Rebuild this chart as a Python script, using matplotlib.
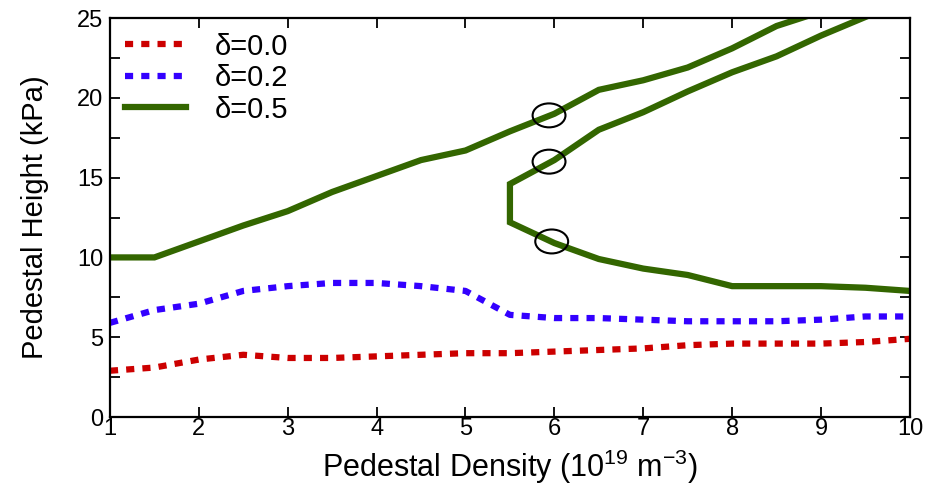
import numpy as np
import matplotlib
matplotlib.use("Agg")
import matplotlib.pyplot as plt
from matplotlib.patches import Ellipse

plt.rcParams['font.family'] = ['Liberation Sans', 'DejaVu Sans']
plt.rcParams['mathtext.fontset'] = 'custom'
plt.rcParams['mathtext.rm'] = 'Liberation Sans'

# Data
dens = [1, 1.5, 2, 2.5, 3, 3.5, 4, 4.5, 5, 5.5, 6, 6.5, 7, 7.5, 8, 8.5, 9, 9.5, 10]
p_d00 = [2.9, 3.1, 3.6, 3.9, 3.7, 3.7, 3.8, 3.9, 4.0, 4.0, 4.1, 4.2, 4.3, 4.5, 4.6, 4.6, 4.6, 4.7, 4.9]
p_d02 = [5.9, 6.7, 7.1, 7.9, 8.2, 8.4, 8.4, 8.2, 7.9, 6.4, 6.2, 6.2, 6.1, 6.0, 6.0, 6.0, 6.1, 6.3, 6.3]

# delta=0.5: outer branch and the inner (returning) branch
d05_outer_x = [1, 1.5, 2, 2.5, 3, 3.5, 4, 4.5, 5, 5.5, 6, 6.5, 7, 7.5, 8, 8.5, 9]
d05_outer_y = [10, 10, 11, 12, 12.9, 14.1, 15.1, 16.1, 16.7, 17.9, 19.0, 20.5, 21.1, 21.9, 23.1, 24.5, 25.4]
d05_inner_x = [9.6, 9, 8.5, 8, 7.5, 7, 6.5, 6, 5.5, 5.5, 6, 6.5, 7, 7.5, 8, 8.5, 9, 9.5, 10]
d05_inner_y = [25.3, 23.9, 22.6, 21.6, 20.4, 19.1, 18.0, 16.1, 14.6, 12.2, 10.9, 9.9, 9.3, 8.9, 8.2, 8.2, 8.2, 8.1, 7.9]

# marked points (circles)
mark_x = [5.94, 5.94, 5.97]
mark_y = [18.9, 16.0, 11.0]

red, blue, green = '#cc0000', '#3300ff', '#336600'
dots = (0, (1.3, 1.3))

fig = plt.figure(figsize=(9.28, 4.87), dpi=100)
ax = fig.add_axes([0.1185, 0.1437, 0.862, 0.8193])

ax.plot(dens, p_d00, color=red, lw=4.5, ls=dots, label='δ=0.0')
ax.plot(dens, p_d02, color=blue, lw=4.5, ls=dots, label='δ=0.2')
ax.plot(d05_outer_x, d05_outer_y, color=green, lw=4.5, label='δ=0.5',
        solid_joinstyle='miter')
ax.plot(d05_inner_x, d05_inner_y, color=green, lw=4.5, solid_joinstyle='miter')

for mx, my in zip(mark_x, mark_y):
    ax.add_patch(Ellipse((mx, my), 0.37, 1.5, fill=False, ec='black', lw=1.5, zorder=5))

ax.set_xlim(1, 10)
ax.set_ylim(0, 25)
ax.set_xticks(range(1, 11))
ax.set_yticks(np.arange(0, 26, 5))
ax.set_yticks(np.arange(2.5, 25, 5), minor=True)
ax.tick_params(which='both', direction='in', top=True, right=True,
               length=7, width=1.3, labelsize=17)
ax.tick_params(axis='x', pad=1)
ax.tick_params(axis='y', pad=5)
for s in ax.spines.values():
    s.set_linewidth(1.6)

ax.set_xlabel('Pedestal Density (10$^{19}$ m$^{-3}$)', fontsize=22, labelpad=5)
ax.set_ylabel('Pedestal Height (kPa)', fontsize=21, labelpad=20)

leg = ax.legend(loc='upper left', frameon=False, fontsize=21, handlelength=2.1,
                handletextpad=1.0, labelspacing=0.12, borderaxespad=0.1)

fig.savefig('out.png', dpi=100)
